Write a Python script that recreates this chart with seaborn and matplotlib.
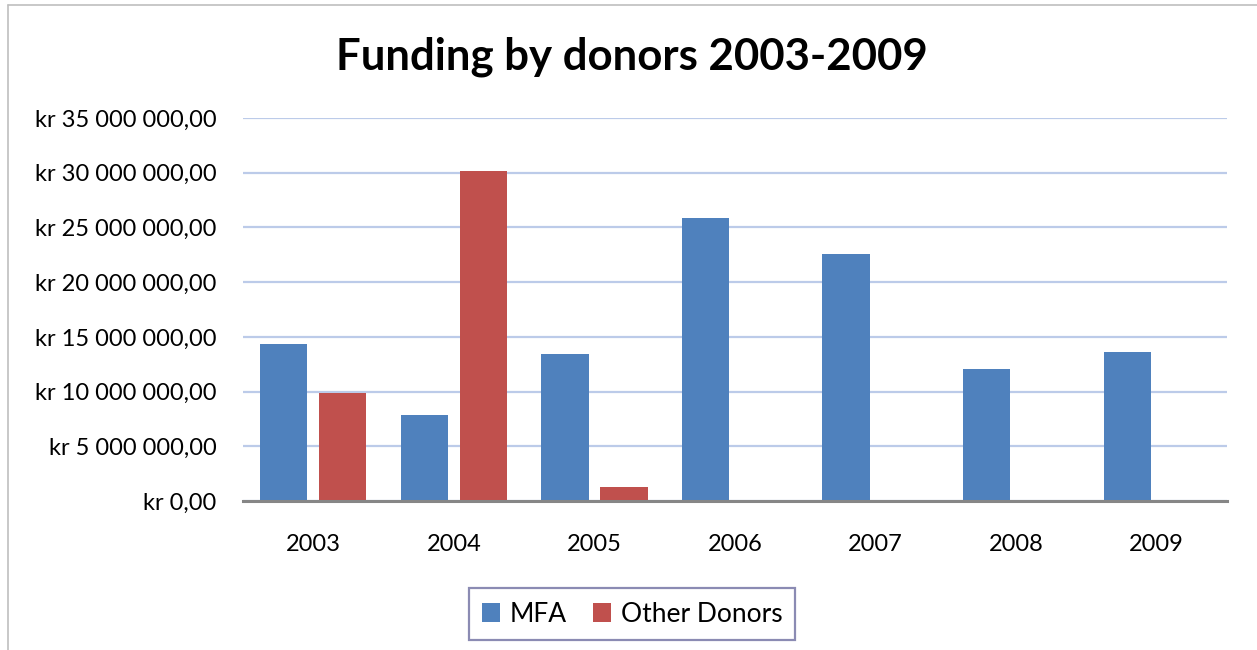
import matplotlib
matplotlib.use("Agg")
import matplotlib.pyplot as plt
import seaborn as sns
import pandas as pd
from matplotlib.ticker import FuncFormatter, MultipleLocator
from matplotlib.lines import Line2D

years = ["2003", "2004", "2005", "2006", "2007", "2008", "2009"]
mfa = [14.31e6, 7.84e6, 13.42e6, 25.82e6, 22.59e6, 12.05e6, 13.58e6]
other = [9.85e6, 30.2e6, 1.25e6, 0, 0, 0, 0]
series = ["MFA", "Other Donors"]
colors = ["#4f81bd", "#c0504d"]

df = pd.DataFrame({
    "Year": years * 2,
    "Donor": [series[0]] * len(years) + [series[1]] * len(years),
    "Amount": mfa + other,
})

sns.set_theme(style="white")
plt.rcParams["font.family"] = ["Lato", "DejaVu Sans"]
plt.rcParams["text.color"] = "black"

fig = plt.figure(figsize=(12.57, 6.5), dpi=100)
ax = fig.add_axes([243 / 1257, (650 - 501) / 650, (1227 - 243) / 1257, (501 - 118) / 650])

sns.barplot(data=df, x="Year", y="Amount", hue="Donor", palette=colors, saturation=1,
            width=0.84, gap=0.2, linewidth=0, ax=ax, legend=True, zorder=3)

ax.set_ylim(0, 35e6)
ax.set_xlim(-0.5, 6.5)
ax.yaxis.set_major_locator(MultipleLocator(5e6))

def fmt(v, pos):
    s = f"{int(round(v)):,}".replace(",", " ")
    return f"kr {s},00"

ax.yaxis.set_major_formatter(FuncFormatter(fmt))
ax.grid(axis="y", color="#bccbe9", linewidth=1.6, zorder=0)
ax.grid(axis="x", visible=False)
for s in ["top", "right", "left"]:
    ax.spines[s].set_visible(False)
ax.spines["bottom"].set_color("#868686")
ax.spines["bottom"].set_linewidth(2.2)
ax.spines["bottom"].set_zorder(4)
ax.tick_params(axis="both", length=0, labelsize=17, colors="black")
ax.tick_params(axis="y", pad=19)
ax.tick_params(axis="x", pad=24)
ax.set_xlabel("")
ax.set_ylabel("")

fig.text(632 / 1257, 1 - 57 / 650, "Funding by donors 2003-2009", ha="center", va="center",
         fontsize=31.5, fontweight="bold", color="black")

ax.legend_.remove()
leg = fig.legend(*ax.get_legend_handles_labels(), loc="center",
                 bbox_to_anchor=(632 / 1257, 1 - 614 / 650), ncol=2, frameon=True,
                 fontsize=19, handlelength=0.7, handleheight=0.7, handletextpad=0.35,
                 columnspacing=1.0, fancybox=False, borderpad=0.5)
leg.get_frame().set_edgecolor("#6e6ea0")
leg.get_frame().set_linewidth(1.6)
for t in leg.get_texts():
    t.set_color("black")

# outer chart border (partial)
fig.add_artist(Line2D([8 / 1257, 8 / 1257], [0, 1 - 5 / 650], color="#bfbfbf", linewidth=1.2, transform=fig.transFigure))
fig.add_artist(Line2D([8 / 1257, 1], [1 - 5 / 650, 1 - 5 / 650], color="#bfbfbf", linewidth=1.2, transform=fig.transFigure))

fig.savefig("out.png", dpi=100)
